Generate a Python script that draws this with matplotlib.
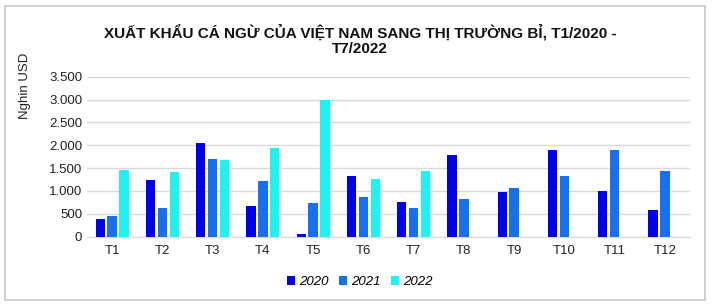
import matplotlib.pyplot as plt
import numpy as np
from matplotlib.ticker import FuncFormatter
from matplotlib.patches import Rectangle

plt.rcParams['font.family'] = ['Liberation Sans', 'DejaVu Sans']

# Dữ liệu (nghìn USD)
months = ['T1', 'T2', 'T3', 'T4', 'T5', 'T6', 'T7', 'T8', 'T9', 'T10', 'T11', 'T12']
y2020 = [390, 1240, 2045, 680, 55, 1330, 765, 1795, 970, 1890, 990, 585]
y2021 = [455, 635, 1690, 1220, 745, 860, 635, 815, 1060, 1330, 1890, 1440]
y2022 = [1465, 1420, 1670, 1940, 3000, 1260, 1445]
years = ['2020', '2021', '2022']
colors = ['#0000EE', '#1670F0', '#1EF2F2']

fig = plt.figure(figsize=(7.15, 3.06), dpi=100)
ax = fig.add_axes([87 / 715, 1 - 236.7 / 306, 603 / 715, 160 / 306])

x = np.arange(len(months))
w = 0.185
step = 0.235
for i, (vals, c, lab) in enumerate(zip([y2020, y2021, y2022], colors, years)):
    xs = x[:len(vals)] + (i - 1) * step
    ax.bar(xs, vals, width=w, color=c, label=lab, zorder=3)

ax.set_xlim(-0.5, len(months) - 0.5)
ax.set_ylim(0, 3500)
ax.set_yticks(np.arange(0, 3501, 500))
ax.yaxis.set_major_formatter(FuncFormatter(lambda v, p: f'{int(v):,}'.replace(',', '.')))
ax.set_xticks(x)
ax.set_xticklabels(months)
ax.tick_params(axis='both', length=0, labelsize=9.5, colors='#222222')
ax.tick_params(axis='x', pad=6)
ax.grid(axis='y', color='#D9D9D9', linewidth=1, zorder=0)
for s in ['top', 'right', 'left']:
    ax.spines[s].set_visible(False)
ax.spines['bottom'].set_color('#D9D9D9')

fig.text(25 / 715, 1 - 86 / 306, 'Nghin USD', rotation=90, ha='center', va='center',
         fontsize=9.5, color='#222222')

fig.text(360 / 715, 1 - 40 / 306, 'XUẤT KHẨU CÁ NGỪ CỦA VIỆT NAM SANG THỊ TRƯỜNG BỈ, T1/2020 -\nT7/2022',
         ha='center', va='center', fontsize=11, fontweight='bold', linespacing=1.2,
         color='#111111')

fig.legend(loc='center', bbox_to_anchor=(360 / 715, 1 - 282 / 306), ncol=3, frameon=False,
           prop={'style': 'italic', 'size': 9.5}, handlelength=0.6, handleheight=0.6,
           handletextpad=0.3, columnspacing=0.8)

fig.patches.append(Rectangle((5 / 715, 6 / 306), 700 / 715, 294 / 306, transform=fig.transFigure,
                             fill=False, edgecolor='#C8C8C8', linewidth=1.2))

fig.savefig('out.png', dpi=100)
